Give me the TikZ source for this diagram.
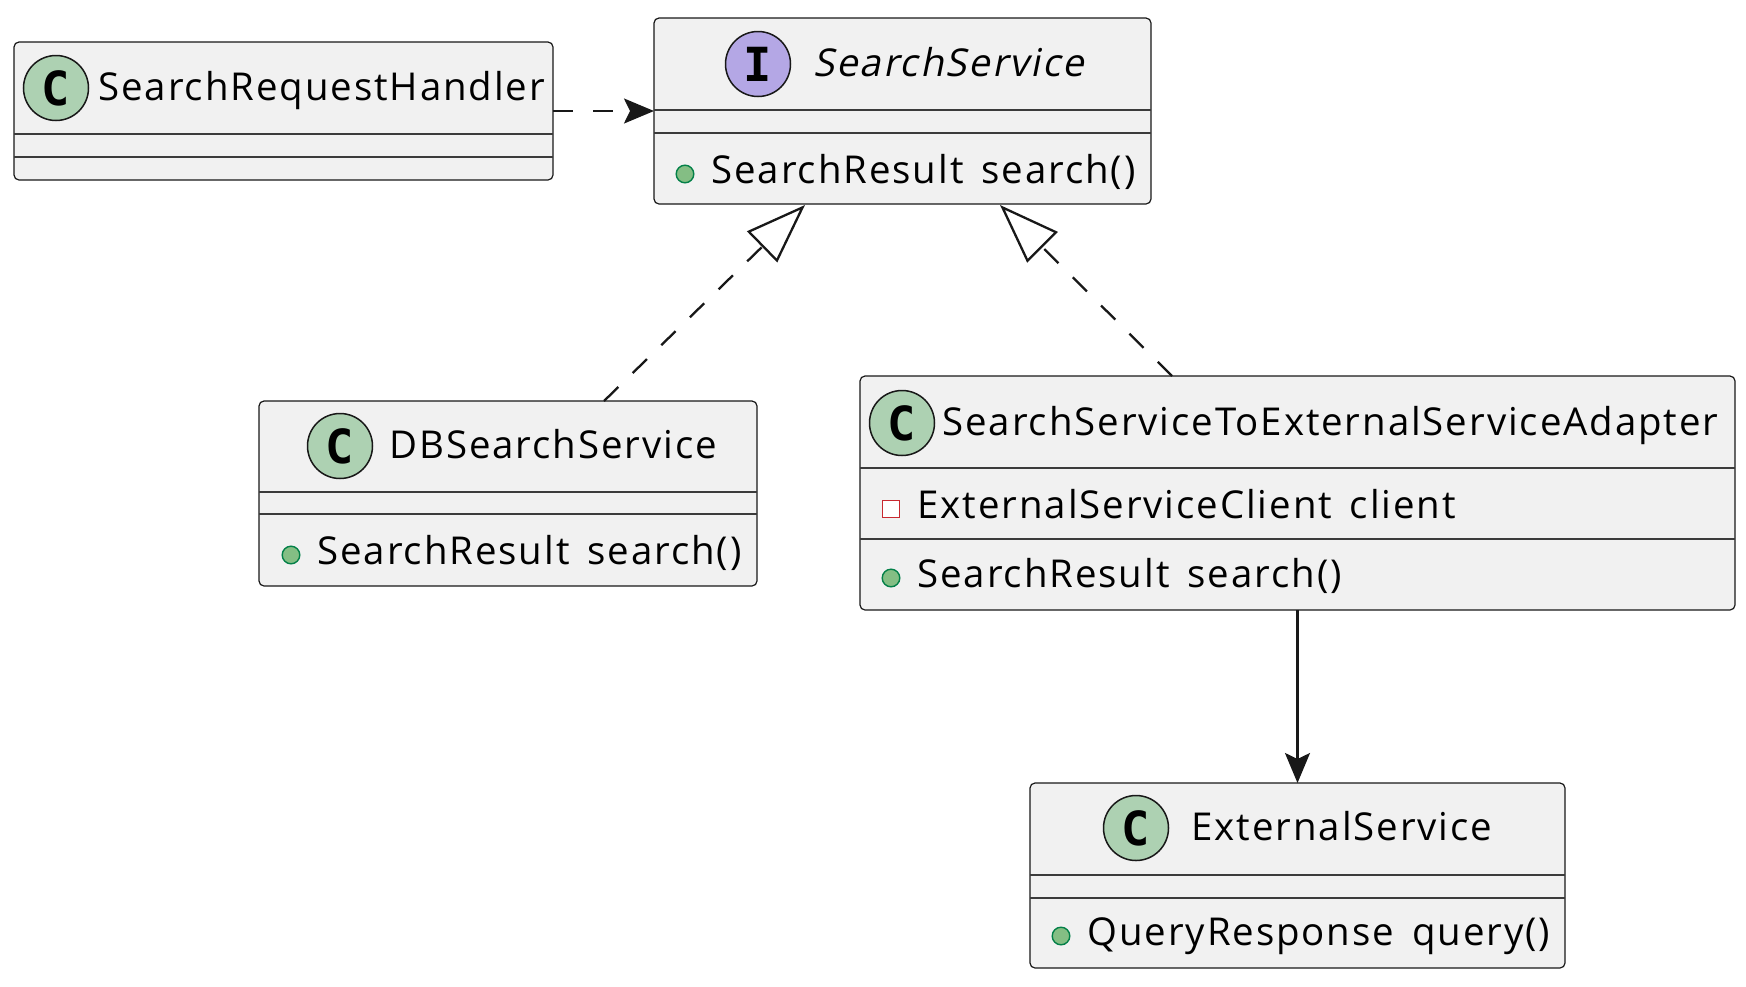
\documentclass[tikz,border=0pt]{standalone}
\usepackage{fontspec}
\setmainfont{Open Sans}[LetterSpace=5, WordSpace=1.5]
\newfontfamily\slantfont{Open Sans}[LetterSpace=5, FakeSlant=0.2]
\newfontfamily\spotfont{DejaVu Sans Mono}
\usetikzlibrary{arrows.meta,fit}
\definecolor{boxfill}{HTML}{F1F1F1}
\definecolor{boxline}{HTML}{181818}
\definecolor{spotC}{HTML}{ADD1B2}
\definecolor{spotI}{HTML}{B4A7E5}
\definecolor{pubfill}{HTML}{84BE84}
\definecolor{publine}{HTML}{038048}
\definecolor{privline}{HTML}{C82930}
\tikzset{
  umlbox/.style={draw=boxline, fill=boxfill, line width=0.6pt, rounded corners=2.5pt, inner sep=0pt, outer sep=0pt},
  sepline/.style={draw=boxline!85, line width=0.55pt},
  spot/.style={circle, draw=boxline, line width=0.75pt, minimum size=32.5pt, inner sep=0pt, font=\spotfont\bfseries\fontsize{23.5pt}{24pt}\selectfont},
  cname/.style={anchor=base west, inner sep=0pt, font=\fontsize{19.2pt}{23pt}\selectfont},
  member/.style={anchor=base west, inner sep=0pt, font=\fontsize{19.2pt}{23pt}\selectfont},
  pub/.style={circle, draw=publine, fill=pubfill, line width=0.7pt, minimum size=8.8pt, inner sep=0pt},
  priv/.style={rectangle, draw=privline, fill=white, line width=0.9pt, minimum size=8.5pt, inner sep=0pt},
  conn/.style={draw=boxline, line width=1.15pt},
  dashconn/.style={conn, dash pattern=on 10pt off 10pt},
  deptip/.style={-{Stealth[length=15pt, width=12.5pt, inset=3pt]}},
  realtip/.style={-{Triangle[open, length=30pt, width=21.5pt, fill=white]}},
}
\begin{document}
\begin{tikzpicture}[x=0.5pt, y=-0.5pt]
\useasboundingbox (0,0) rectangle (1746,986);

% SearchRequestHandler
\node[umlbox, fit={(14,42)(553,180)}] (srh) {};
\draw[sepline] (srh.west |- 0,134) -- (srh.east |- 0,134);
\draw[sepline] (srh.west |- 0,157) -- (srh.east |- 0,157);
\node[spot, fill=spotC] (srhS) at (56,88) {C};
\node[cname] (srhT) at (98,100.5) {SearchRequestHandler};

% SearchService (interface)
\node[umlbox, fit={(654,18)(1151,204)}] (ss) {};
\draw[sepline] (ss.west |- 0,110) -- (ss.east |- 0,110);
\draw[sepline] (ss.west |- 0,133) -- (ss.east |- 0,133);
\node[spot, fill=spotI] (ssS) at (758,64) {I};
\node[cname, font=\slantfont\fontsize{19.2pt}{23pt}\selectfont] (ssT) at (813,76.5) {SearchService};
\node[pub] (ssM1v) at (685,174) {};
\node[member] (ssM1) at (711,183) {SearchResult search()};

% DBSearchService
\node[umlbox, fit={(259,401)(757,586)}] (db) {};
\draw[sepline] (db.west |- 0,492) -- (db.east |- 0,492);
\draw[sepline] (db.west |- 0,514) -- (db.east |- 0,514);
\node[spot, fill=spotC] (dbS) at (340,446) {C};
\node[cname] (dbT) at (389,458.5) {DBSearchService};
\node[pub] (dbM1v) at (291,555) {};
\node[member] (dbM1) at (317,564) {SearchResult search()};

% SearchServiceToExternalServiceAdapter
\node[umlbox, fit={(860,376)(1735,610)}] (ad) {};
\draw[sepline] (ad.west |- 0,468) -- (ad.east |- 0,468);
\draw[sepline] (ad.west |- 0,539) -- (ad.east |- 0,539);
\node[spot, fill=spotC] (adS) at (902,423) {C};
\node[cname] (adT) at (942,435.5) {SearchServiceToExternalServiceAdapter};
\node[priv] (adF1v) at (891,509) {};
\node[member] (adF1) at (917,518) {ExternalServiceClient client};
\node[pub] (adM1v) at (891,578) {};
\node[member] (adM1) at (917,587) {SearchResult search()};

% ExternalService
\node[umlbox, fit={(1030,783)(1565,968)}] (ext) {};
\draw[sepline] (ext.west |- 0,875) -- (ext.east |- 0,875);
\draw[sepline] (ext.west |- 0,898) -- (ext.east |- 0,898);
\node[spot, fill=spotC] (extS) at (1136,828) {C};
\node[cname] (extT) at (1191,840.5) {ExternalService};
\node[pub] (extM1v) at (1061,936) {};
\node[member] (extM1) at (1087,945) {QueryResponse query()};

% connectors
\draw[dashconn, deptip] (srh.east) -- (ss.west);

\coordinate (dbTop) at (604,401);
\coordinate (ssBotL) at (805,205);
\draw[dashconn, realtip] (dbTop) -- (ssBotL);

\coordinate (adTop) at (1172,376);
\coordinate (ssBotR) at (1000,205);
\draw[dashconn, realtip] (adTop) -- (ssBotR);

\draw[conn, deptip] (ad.south) -- (ext.north);
\end{tikzpicture}
\end{document}
